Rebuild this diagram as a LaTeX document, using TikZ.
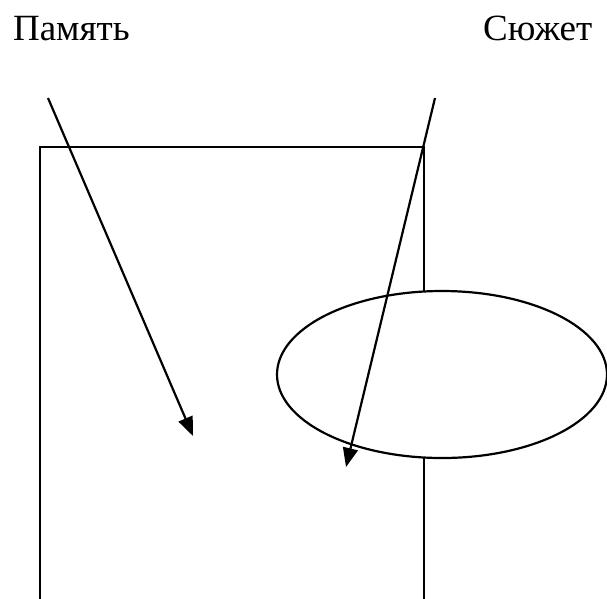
\documentclass[tikz,border=0pt]{standalone}
\usepackage{fontspec}
\setmainfont{Liberation Serif}
\usetikzlibrary{arrows.meta,shapes.geometric}
\begin{document}
\begin{tikzpicture}[x=1pt,y=-1pt,
  line width=2.2pt,
  lbl/.style={inner sep=0pt,anchor=base west,font=\fontsize{37}{42}\selectfont},
  arr/.style={-{Triangle[length=19pt,width=15pt]}},
  oval/.style={draw,fill=white,ellipse,inner sep=0pt,minimum width=330pt,minimum height=167pt}]
\useasboundingbox (0,0) rectangle (607,598);
\node[lbl] (pam) at (12,40) {Память};
\node[lbl] (sju) at (482,40) {Сюжет};
\draw (40,600) -- (40,147) -- (424,147) -- (424,600);
\node[oval] (ell) at (442,374.5) {};
\coordinate (a1) at (48,98);
\coordinate (b1) at (193,436);
\coordinate (a2) at (435,98);
\coordinate (b2) at (346,467);
\draw[arr] (a1) -- (b1);
\draw[arr] (a2) -- (b2);
\end{tikzpicture}
\end{document}
